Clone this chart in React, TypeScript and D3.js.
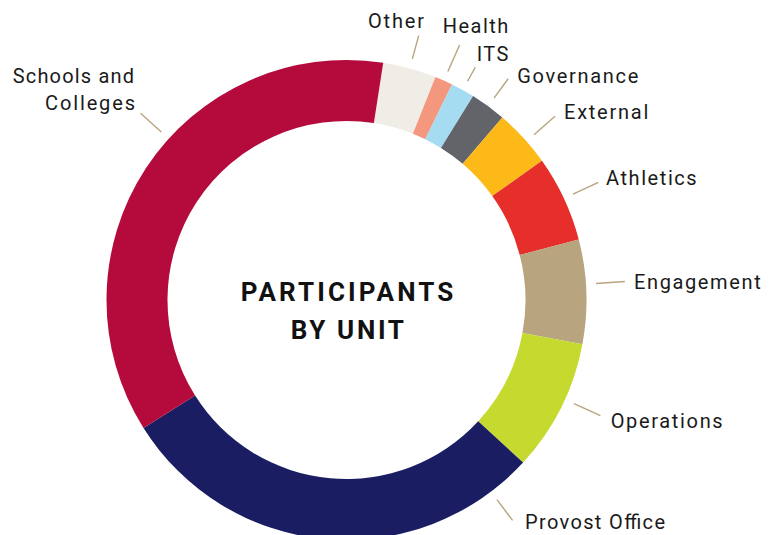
import React from "react";
import * as d3 from "d3";

const units = ["Other", "Health", "ITS", "Governance", "External", "Athletics", "Engagement", "Operations", "Provost Office", "Schools and Colleges"];
const shares = [3.6, 1.2, 1.6, 2.4, 3.9, 5.8, 7.0, 8.9, 29.2, 36.4];
const colors = ["#F0EDE7", "#F4977F", "#A5DCF2", "#636469", "#FCB918", "#E62E2B", "#B8A47F", "#C5D92E", "#1A1D62", "#B40A3C"];
const titleLines = ["PARTICIPANTS", "BY UNIT"];

// label layout (not data): text lines, anchor position, target width, leader angle override
const labelLayout = [
  { lines: ["Other"], x: 368, y: 28, w: 56, anchor: "start", r2: 274 },
  { lines: ["Health"], x: 442.7, y: 33.3, w: 65.6, anchor: "start", r2: 279 },
  { lines: ["ITS"], x: 476.7, y: 61, w: 31.6, anchor: "start", r2: 266 },
  { lines: ["Governance"], x: 517.3, y: 83, w: 121, anchor: "start", r2: 274 },
  { lines: ["External"], x: 564, y: 118.5, w: 84.3, anchor: "start", r2: 278, ang: 48.6 },
  { lines: ["Athletics"], x: 606, y: 184.5, w: 90.7, anchor: "start", r2: 278 },
  { lines: ["Engagement"], x: 634, y: 289, w: 126.7, anchor: "start", r2: 279, ang: 86.2 },
  { lines: ["Operations"], x: 610.7, y: 427.7, w: 112, anchor: "start", r2: 279, ang: 114.5 },
  { lines: ["Provost Office"], x: 525, y: 528.5, w: 140, anchor: "start", r2: 276, ang: 143 },
  { lines: ["Schools and", "Colleges"], x: 134, y: 83.3, w: [121.3, 90], anchor: "end", r2: 278, ang: 312.2 },
];

const W = 777;
const H = 535;
const cx = 346.5;
const cy = 300;
const rOuter = 240;
const rInner = 179;
const startDeg = 8.8;

export default function App() {
  const toRad = (d: number) => (d * Math.PI) / 180;
  const pie = d3
    .pie<number>()
    .sort(null)
    .value((d) => d)
    .startAngle(toRad(startDeg))
    .endAngle(toRad(startDeg) + 2 * Math.PI);
  const arcs = pie(shares);
  const arc = d3.arc<d3.PieArcDatum<number>>().innerRadius(rInner).outerRadius(rOuter);

  const font = "Roboto, 'DejaVu Sans', sans-serif";

  return (
    <svg width={W} height={H} style={{ position: "absolute", left: 0, top: 0, background: "#fff" }}>
      <g transform={`translate(${cx},${cy})`}>
        {arcs.map((a, i) => (
          <path key={units[i]} d={arc(a) || ""} fill={colors[i]} />
        ))}
        {arcs.map((a, i) => {
          const L = labelLayout[i];
          const angDeg = L.ang !== undefined ? L.ang : (((a.startAngle + a.endAngle) / 2) * 180) / Math.PI;
          const t = toRad(angDeg);
          const r1 = 250;
          const r2 = L.r2;
          return (
            <line
              key={"l" + i}
              x1={r1 * Math.sin(t)}
              y1={-r1 * Math.cos(t)}
              x2={r2 * Math.sin(t)}
              y2={-r2 * Math.cos(t)}
              stroke="#B8A47F"
              strokeWidth={1.4}
            />
          );
        })}
      </g>
      {labelLayout.map((L, i) =>
        L.lines.map((s, j) => (
          <text
            key={i + "-" + j}
            x={L.x + (j === 1 ? 1 : 0)}
            y={L.y + j * 26.7}
            textAnchor={L.anchor}
            fontFamily={font}
            fontSize={20}
            fill="#1a1a1a"
            textLength={Array.isArray(L.w) ? L.w[j] : L.w}
            lengthAdjust="spacing"
          >
            {s}
          </text>
        ))
      )}
      <text x={347} y={300.7} textAnchor="middle" fontFamily={font} fontWeight={700} fontSize={26} fill="#111" textLength={212.6} lengthAdjust="spacing">
        {titleLines[0]}
      </text>
      <text x={347.3} y={339} textAnchor="middle" fontFamily={font} fontWeight={700} fontSize={26} fill="#111" textLength={113.3} lengthAdjust="spacing">
        {titleLines[1]}
      </text>
    </svg>
  );
}
